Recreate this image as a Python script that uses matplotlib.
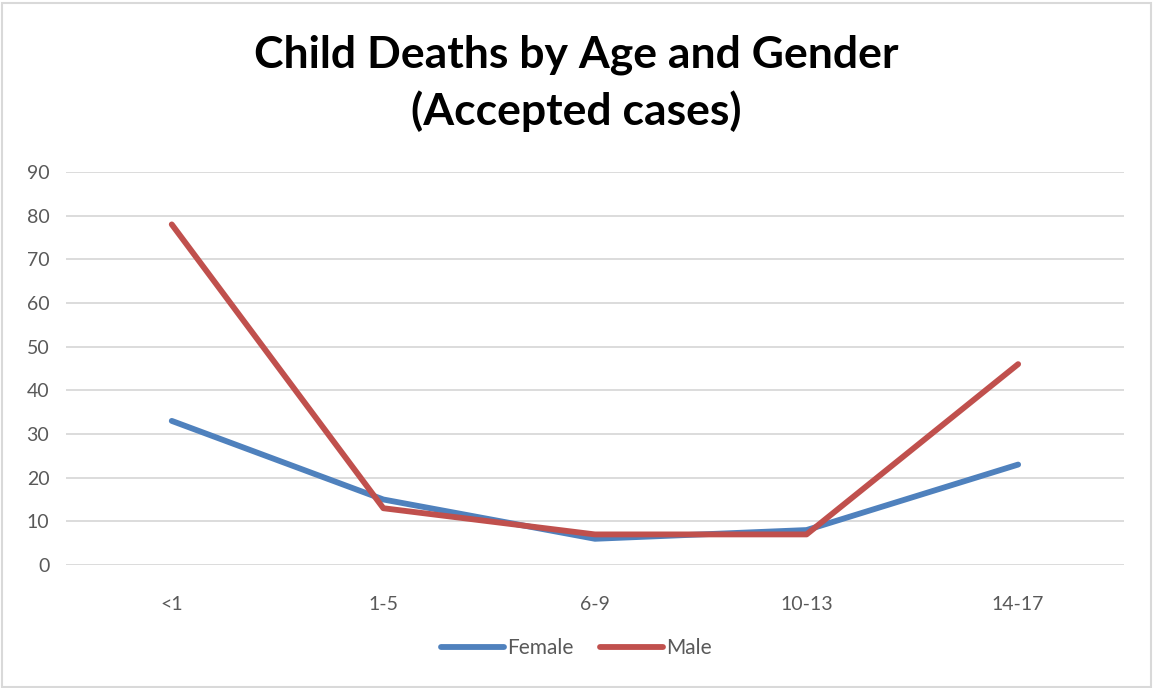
import matplotlib
matplotlib.use("Agg")
import matplotlib.pyplot as plt
from matplotlib.patches import Rectangle

plt.rcParams["font.family"] = ["Lato", "DejaVu Sans"]

age_groups = ["<1", "1-5", "6-9", "10-13", "14-17"]
female = [33, 15, 6, 8, 23]
male = [78, 13, 7, 7, 46]

fig = plt.figure(figsize=(11.53, 6.88), dpi=100)
ax = fig.add_axes([0.0572, 0.1788, 0.9176, 0.5712])

x = range(len(age_groups))
ax.plot(x, female, color="#4f81bd", lw=4.2, solid_capstyle="round",
        solid_joinstyle="round", label="Female")
ax.plot(x, male, color="#c0504d", lw=4.2, solid_capstyle="round",
        solid_joinstyle="round", label="Male")

ax.set_xlim(-0.5, len(age_groups) - 0.5)
ax.set_ylim(0, 90)
ax.set_yticks(range(0, 91, 10))
ax.set_xticks(list(x))
ax.set_xticklabels(age_groups)
ax.grid(axis="y", color="#d9d9d9", lw=1.3)
ax.set_axisbelow(True)
for s in ax.spines.values():
    s.set_visible(False)
ax.tick_params(length=0, labelsize=14, colors="#595959", pad=12)
ax.tick_params(axis="x", pad=22)

fig.text(0.5, 0.921, "Child Deaths by Age and Gender", ha="center", va="center",
         fontsize=32, fontweight="bold", color="black")
fig.text(0.5, 0.839, "(Accepted cases)", ha="center", va="center",
         fontsize=32, fontweight="bold", color="black")

fig.legend(loc="center", bbox_to_anchor=(0.5, 0.058), ncol=2, frameon=False,
           fontsize=15, handlelength=3.0, handletextpad=0.15, columnspacing=1.3,
           labelcolor="#595959")

fig.add_artist(Rectangle((0.002, 0.002), 0.996, 0.994, transform=fig.transFigure,
                         fill=False, edgecolor="#d9d9d9", lw=1.5))

fig.savefig("out.png", dpi=100)
